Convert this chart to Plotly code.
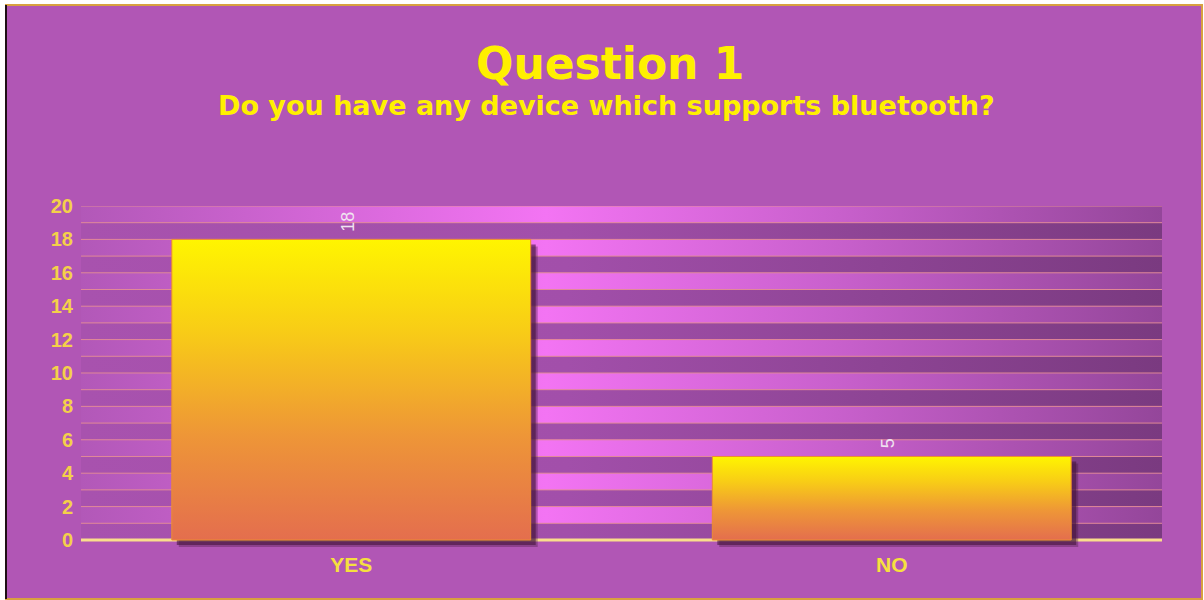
import plotly.graph_objects as go

# ---- data ----
categories = ["YES", "NO"]
values = [18, 5]
y_ticks = list(range(0, 21, 2))
y_max = 20
title_text = "Question 1"
subtitle_text = "Do you have any device which supports bluetooth?"

# ---- layout geometry ----
W, H = 1204, 600
ML, MR, MT, MB = 81, 42, 206, 53
PLOT_W = W - ML - MR
PLOT_H = H - MT - MB
Y_MIN = -0.42
X_RANGE = [-0.5, len(categories) - 0.5]
BAR_W = 0.664
HW = BAR_W / 2
px_per_x = PLOT_W / (X_RANGE[1] - X_RANGE[0])
px_per_y = PLOT_H / (y_max - Y_MIN)
DX = 6 / px_per_x
DY = 6 / px_per_y


def pxx(p):
    return (p - ML) / PLOT_W


def pxy(p):
    return (H - MB - p) / PLOT_H


fig = go.Figure()

# ---- background bands ----
def bands(levels):
    xs, ys = [], []
    for k in levels:
        xs += [X_RANGE[0], X_RANGE[1], X_RANGE[1], X_RANGE[0], X_RANGE[0], None]
        ys += [k, k, k + 1, k + 1, k, None]
    return xs, ys

dark_x, dark_y = bands([k for k in range(0, y_max) if k % 2 == 0])
pink_x, pink_y = bands([k for k in range(0, y_max) if k % 2 == 1])

fig.add_trace(go.Scatter(
    x=dark_x, y=dark_y, mode="none", fill="toself", hoverinfo="skip",
    fillgradient=dict(type="horizontal", start=X_RANGE[0], stop=X_RANGE[1],
                      colorscale=[[0, "rgb(168,82,174)"], [0.45, "rgb(162,79,170)"],
                                  [1, "rgb(122,58,128)"]]),
    showlegend=False))
fig.add_trace(go.Scatter(
    x=pink_x, y=pink_y, mode="none", fill="toself", hoverinfo="skip",
    fillgradient=dict(type="horizontal", start=X_RANGE[0], stop=X_RANGE[1],
                      colorscale=[[0, "rgb(178,88,184)"], [0.43, "rgb(243,116,243)"],
                                  [0.7, "rgb(200,96,204)"], [1, "rgb(148,70,154)"]]),
    showlegend=False))

# ---- grid lines ----
gx, gy = [], []
for k in range(1, y_max + 1):
    gx += [X_RANGE[0], X_RANGE[1], None]
    gy += [k, k, None]
fig.add_trace(go.Scatter(x=gx, y=gy, mode="lines", hoverinfo="skip",
                         line=dict(color="rgba(228,140,150,0.95)", width=1),
                         showlegend=False))

# ---- baseline ----
fig.add_trace(go.Scatter(x=X_RANGE, y=[0, 0], mode="lines", hoverinfo="skip",
                         line=dict(color="rgb(250,222,140)", width=3),
                         showlegend=False))

# ---- shadows (soft: two layers) ----
for off, alpha in [(7, 0.35), (5, 0.6)]:
    dx = off / px_per_x
    dy = off / px_per_y
    sx, sy = [], []
    for i, v in enumerate(values):
        x0, x1 = i - HW + dx, i + HW + dx
        sx += [x0, x1, x1, x0, x0, None]
        sy += [-dy, -dy, v - dy, v - dy, -dy, None]
    fig.add_trace(go.Scatter(x=sx, y=sy, mode="none", fill="toself", hoverinfo="skip",
                             fillcolor=f"rgba(70,22,60,{alpha})", showlegend=False))

# ---- bars (gradient filled) ----
for i, (c, v) in enumerate(zip(categories, values)):
    x0, x1 = i - HW, i + HW
    fig.add_trace(go.Scatter(
        x=[x0, x1, x1, x0, x0], y=[0, 0, v, v, 0], mode="lines", fill="toself",
        name=c, line=dict(color="rgb(236,140,50)", width=1),
        fillgradient=dict(type="vertical", start=0, stop=v,
                          colorscale=[[0, "rgb(228,110,78)"], [0.35, "rgb(238,150,55)"],
                                      [0.7, "rgb(248,205,22)"], [1, "rgb(255,245,0)"]]),
        hovertemplate=f"{c}: {v}<extra></extra>", showlegend=False))
    fig.add_annotation(x=i, y=v, text=str(v), textangle=-90, showarrow=False,
                       yanchor="bottom", yshift=6, xshift=-3,
                       font=dict(family="Liberation Sans", size=18, color="rgb(240,228,240)"))

# ---- titles ----
fig.add_annotation(xref="paper", yref="paper", x=pxx(610), y=pxy(64), text=f"<b>{title_text}</b>",
                   showarrow=False, xanchor="center", yanchor="middle",
                   font=dict(family="DejaVu Sans", size=44, color="rgb(255,240,0)"))
fig.add_annotation(xref="paper", yref="paper", x=pxx(606), y=pxy(105), text=f"<b>{subtitle_text}</b>",
                   showarrow=False, xanchor="center", yanchor="middle",
                   font=dict(family="DejaVu Sans", size=27, color="rgb(255,240,0)"))

# ---- frame ----
fig.add_shape(type="rect", xref="paper", yref="paper", layer="below",
              x0=pxx(6), x1=pxx(1202), y0=pxy(599), y1=pxy(5),
              fillcolor="rgb(177,86,181)", line=dict(color="rgb(216,160,64)", width=2))
fig.add_shape(type="line", xref="paper", yref="paper", layer="below",
              x0=pxx(6), x1=pxx(6), y0=pxy(599), y1=pxy(5),
              line=dict(color="rgb(30,15,20)", width=2))

fig.update_layout(
    width=W, height=H,
    margin=dict(l=ML, r=MR, t=MT, b=MB, pad=0),
    paper_bgcolor="white", plot_bgcolor="rgba(0,0,0,0)",
    showlegend=False,
    xaxis=dict(range=X_RANGE, tickvals=list(range(len(categories))), ticktext=categories,
               showgrid=False, zeroline=False, showline=False, ticks="",
               ticklabelstandoff=3,
               tickfont=dict(family="Liberation Sans", size=21, weight="bold",
                             color="rgb(246,224,62)"),
               fixedrange=True),
    yaxis=dict(range=[Y_MIN, y_max], tickvals=y_ticks, ticktext=[str(t) for t in y_ticks],
               showgrid=False, zeroline=False, showline=False, ticks="",
               ticklabelstandoff=7,
               tickfont=dict(family="Liberation Sans", size=20, weight="bold",
                             color="rgb(244,208,74)"),
               fixedrange=True),
)

fig.write_html("out.html")
